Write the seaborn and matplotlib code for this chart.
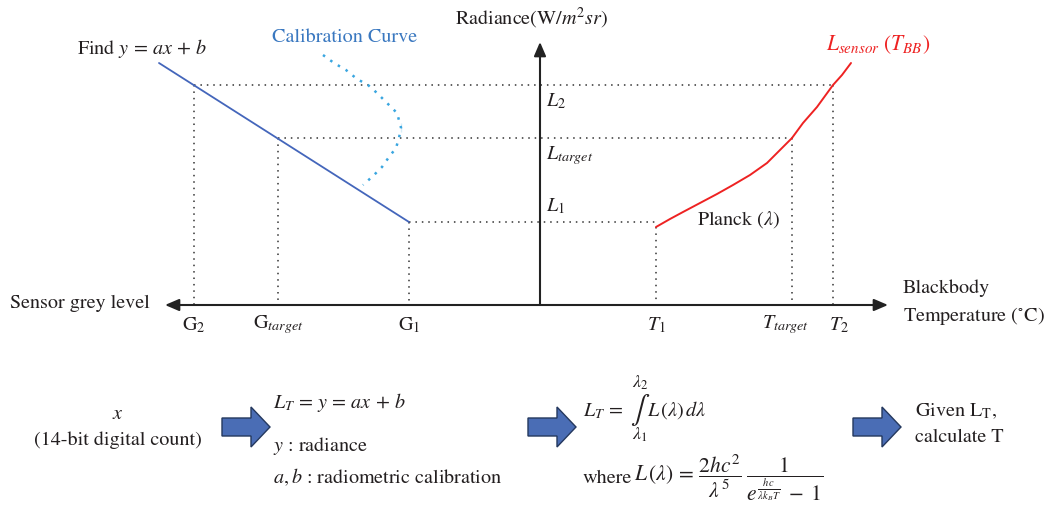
import matplotlib
matplotlib.use("Agg")
import matplotlib.pyplot as plt
import seaborn as sns
from matplotlib.patches import Polygon

sns.set_theme(style="white")
plt.rcParams['font.family'] = ['STIXGeneral', 'DejaVu Serif']
plt.rcParams['mathtext.fontset'] = 'stix'

# ---- data (diagram units = pixels of the reference) ----
# calibration line (grey level -> radiance)
calib_x = [159, 409]
calib_y = [63, 222]
# dotted calibration curve sketch
curve_x = [323, 334, 346, 357, 368, 377, 387, 397, 401, 401, 399, 396, 389, 382, 373, 363]
curve_y = [55, 63, 70, 79, 85, 93, 103, 113, 123, 132, 138, 148, 157, 167, 176, 185]
# Planck curve L_sensor(T_BB)
planck_x = [656, 670, 683, 700, 717, 733, 750, 767, 780, 792, 803, 817, 833, 842, 851]
planck_y = [227, 219, 212, 203, 194, 185, 175, 163, 150, 138, 123, 107, 85, 75, 63]
# reference levels
G_x = [194, 278, 409]          # G2, Gtarget, G1
L_y = [85, 138, 222]           # L2, Ltarget, L1
T_x = [833, 792, 656]          # T2, Ttarget, T1
T_y = [85, 138, 227]
axis_y = 305
axis_x = 540
G_labels = [r"G$_2$", r"G$_{\mathit{target}}$", r"G$_1$"]
T_labels = [r"$T_2$", r"$T_{target}$", r"$T_1$"]
L_labels = [r"$L_2$", r"$L_{target}$", r"$L_1$"]
arrow_x0 = [222, 528, 853]

fig = plt.figure(figsize=(10.57, 5.13), dpi=100)
ax = fig.add_axes([0, 0, 1, 1])
ax.set_xlim(0, 1057)
ax.set_ylim(513, 0)
ax.axis("off")

dot = dict(color="#333333", lw=1.1, linestyle=(0, (1, 3.2)))
# dotted guides
for gx, ly, tx in zip(G_x, L_y, T_x):
    ax.plot([gx, tx], [ly, ly], **dot)
for gx, ly in zip(G_x, L_y):
    ax.plot([gx, gx], [ly, axis_y], **dot)
for tx, ty in zip(T_x, T_y):
    ax.plot([tx, tx], [ty, axis_y], **dot)

# curves via seaborn
sns.lineplot(x=calib_x, y=calib_y, ax=ax, color="#4466bb", lw=1.3, sort=False)
sns.lineplot(x=curve_x, y=curve_y, ax=ax, color="#3aa6e0", lw=1.8,
             linestyle=(0, (1, 2.6)), sort=False)
sns.lineplot(x=planck_x, y=planck_y, ax=ax, color="#ee2222", lw=1.4, sort=False)

# axes arrows
ax.annotate("", xy=(165, axis_y), xytext=(888, axis_y),
            arrowprops=dict(arrowstyle="<|-|>,head_length=0.7,head_width=0.3",
                            color="#222222", lw=1.5, shrinkA=0, shrinkB=0))
ax.annotate("", xy=(axis_x, 42), xytext=(axis_x, axis_y),
            arrowprops=dict(arrowstyle="-|>,head_length=0.7,head_width=0.3",
                            color="#222222", lw=1.5, shrinkA=0, shrinkB=0))

fs = 14.5
tc = "#231f20"
ax.text(455, 18, r"Radiance(W/$m^2 sr$)", fontsize=fs, color=tc, va="center")
ax.text(77, 48, r"Find $y\,=\,ax\,+\,b$", fontsize=fs, color=tc, va="center")
ax.text(272, 37, "Calibration Curve", fontsize=fs, color="#3a78c0", va="center")
ax.text(826, 45, r"$L_{sensor}\ (T_{BB})$", fontsize=fs + 1, color="#ee2222", va="center")
for lab, yy in zip(L_labels, [101, 156, 206]):
    ax.text(546, yy, lab, fontsize=fs, color=tc, va="center")
ax.text(697, 220, r"Planck $(\lambda)$", fontsize=fs, color=tc, va="center")
ax.text(10, 303, "Sensor grey level", fontsize=fs, color=tc, va="center")
for lab, gx in zip(G_labels, G_x):
    ax.text(gx, 325, lab, fontsize=fs, color=tc, va="center", ha="center")
for lab, xx in zip(T_labels, [839, 786, 656]):
    ax.text(xx, 325, lab, fontsize=fs, color=tc, va="center", ha="center")
ax.text(903, 288, "Blackbody", fontsize=fs, color=tc, va="center")
ax.text(903, 316, r"Temperature ($^{\circ}$C)", fontsize=fs, color=tc, va="center")

# bottom workflow
ax.text(118, 414, r"$x$", fontsize=fs, color=tc, va="center", ha="center")
ax.text(118, 440, "(14-bit digital count)", fontsize=fs, color=tc, va="center", ha="center")
ax.text(273, 403, r"$L_T\,=\,y\,=\,ax\,+\,b$", fontsize=fs, color=tc, va="center")
ax.text(273, 446, r"$y$ : radiance", fontsize=fs, color=tc, va="center")
ax.text(273, 477, r"$a,b$ : radiometric calibration", fontsize=fs, color=tc, va="center")
ax.text(640, 383, r"$\lambda_2$", fontsize=fs - 1.5, color=tc, va="center", ha="center")
ax.text(640, 435, r"$\lambda_1$", fontsize=fs - 1.5, color=tc, va="center", ha="center")
ax.text(583, 411, r"$L_T\,=\,$", fontsize=fs, color=tc, va="center")
ax.text(640, 410, r"$\int$", fontsize=fs + 6, color=tc, va="center", ha="center")
ax.text(647, 410, r"$L\,(\lambda)\,d\lambda$", fontsize=fs, color=tc, va="center")
ax.text(583, 478, "where", fontsize=fs, color=tc, va="center")
ax.text(634, 478,
        r"$L\,(\lambda)\,=\,\dfrac{2hc^2}{\lambda^5}\;\dfrac{1}{e^{\frac{hc}{\lambda k_BT}}\;-\;1}$",
        fontsize=fs + 1, color=tc, va="center")
ax.text(915, 411, r"Given L$_\mathrm{T}$,", fontsize=fs, color=tc, va="center")
ax.text(915, 437, "calculate T", fontsize=fs, color=tc, va="center")

# block arrows
for x0 in arrow_x0:
    yc = 427
    pts = [(x0, yc - 9), (x0 + 29, yc - 9), (x0 + 29, yc - 20), (x0 + 48, yc),
           (x0 + 29, yc + 20), (x0 + 29, yc + 9), (x0, yc + 9)]
    ax.add_patch(Polygon(pts, closed=True, facecolor="#4a6db5",
                         edgecolor="#24385e", lw=1.0))

fig.savefig("out.png", dpi=100)
